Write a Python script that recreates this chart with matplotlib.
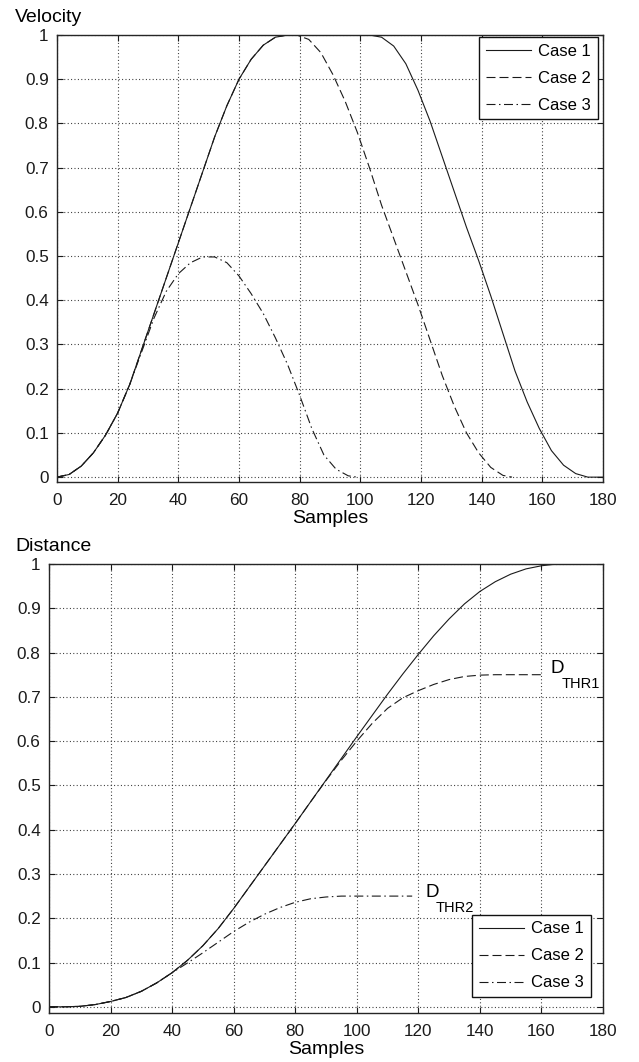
import numpy as np
import matplotlib
matplotlib.use("Agg")
import matplotlib.pyplot as plt
from matplotlib.ticker import FuncFormatter, MultipleLocator

# Figure geometry (pixels, dpi=100)
W, H = 639, 1062
DPI = 100
PX = 72.0 / DPI  # points per pixel

# Velocity profiles
VEL_X1 = [0, 4, 8, 12, 16, 20, 24, 28, 32, 36, 40, 44, 48, 52, 56, 60, 64, 68, 72, 76,
          103, 107, 111, 115, 119, 123, 127, 131, 135, 139, 143, 147, 151, 155, 159, 163,
          167, 171, 175, 180]
VEL_1 = [0, 0.006, 0.025, 0.055, 0.095, 0.145, 0.21, 0.29, 0.37, 0.45, 0.53, 0.61, 0.69, 0.77,
         0.84, 0.90, 0.945, 0.977, 0.995, 1.0,
         1.0, 0.995, 0.975, 0.935, 0.875, 0.805, 0.725, 0.645, 0.565, 0.49, 0.41, 0.325,
         0.24, 0.17, 0.11, 0.06, 0.027, 0.008, 0.0, 0.0]

VEL_X2 = [0, 4, 8, 12, 16, 20, 24, 28, 32, 36, 40, 44, 48, 52, 56, 60, 64, 68, 72, 76,
          79, 83, 87, 91, 95, 99, 103, 107, 111, 115, 119, 123, 127, 131, 135, 139, 143, 147, 150]
VEL_2 = [0, 0.006, 0.025, 0.055, 0.095, 0.145, 0.21, 0.29, 0.37, 0.45, 0.53, 0.61, 0.69, 0.77,
         0.84, 0.90, 0.945, 0.977, 0.995, 1.0,
         1.0, 0.99, 0.96, 0.91, 0.85, 0.78, 0.70, 0.615, 0.54, 0.465, 0.39, 0.31, 0.23, 0.16,
         0.10, 0.055, 0.022, 0.004, 0.0]

VEL_X3 = [0, 4, 8, 12, 16, 20, 24, 28, 32, 36, 40, 44, 48, 52, 56, 60, 64, 68, 72, 76,
          80, 84, 88, 92, 96, 99]
VEL_3 = [0, 0.006, 0.025, 0.055, 0.095, 0.145, 0.21, 0.285, 0.36, 0.42, 0.46, 0.485, 0.498,
         0.498, 0.485, 0.455, 0.415, 0.37, 0.315, 0.255, 0.185, 0.11, 0.05, 0.018, 0.003, 0.0]

# Distance profiles
DIST_X1 = [0, 5, 10, 15, 20, 25, 30, 35, 40, 45, 50, 55, 60, 65, 70, 75, 80, 85, 90, 95, 100,
           105, 110, 115, 120, 125, 130, 135, 140, 145, 150, 155, 160, 165, 170, 175, 180]
DIST_1 = [0, 0, 0.001, 0.005, 0.012, 0.021, 0.035, 0.054, 0.077, 0.105, 0.138, 0.177, 0.222, 0.27,
          0.318, 0.366, 0.414, 0.463, 0.512, 0.561, 0.61, 0.658, 0.706, 0.752, 0.796, 0.838, 0.876,
          0.91, 0.938, 0.96, 0.977, 0.989, 0.996, 1.0, 1.0, 1.0, 1.0]

DIST_X2 = [0, 5, 10, 15, 20, 25, 30, 35, 40, 45, 50, 55, 60, 65, 70, 75, 80, 85, 90, 95, 100,
           105, 110, 115, 120, 125, 130, 135, 140, 145, 150, 155, 160]
DIST_2 = [0, 0, 0.001, 0.005, 0.012, 0.021, 0.035, 0.054, 0.077, 0.105, 0.138, 0.177, 0.222, 0.27,
          0.318, 0.366, 0.414, 0.463, 0.511, 0.557, 0.60, 0.64, 0.674, 0.698, 0.714, 0.728, 0.739,
          0.746, 0.749, 0.75, 0.75, 0.75, 0.75]

DIST_X3 = [0, 5, 10, 15, 20, 25, 30, 35, 40, 45, 50, 55, 60, 65, 70, 75, 80, 85, 90, 95, 100,
           105, 110, 115, 118]
DIST_3 = [0, 0, 0.001, 0.005, 0.012, 0.021, 0.035, 0.054, 0.077, 0.099, 0.122, 0.146, 0.17, 0.191,
          0.209, 0.224, 0.236, 0.244, 0.248, 0.25, 0.25, 0.25, 0.25, 0.25, 0.25]

LABELS = ["Case 1", "Case 2", "Case 3"]

# Line styles (dash patterns in pixels)
LINE_COLOR = "#1a1a1a"
DASHES = [None, (9, 4), (9, 3.5, 1.5, 3.5)]

plt.rcParams["font.family"] = ["Liberation Sans", "DejaVu Sans"]
plt.rcParams["lines.scale_dashes"] = False


def style_axes(ax, ylow):
    ax.set_xlim(0, 180)
    ax.set_ylim(ylow, 1)
    ax.xaxis.set_major_locator(MultipleLocator(20))
    ax.yaxis.set_major_locator(MultipleLocator(0.1))
    ax.yaxis.set_major_formatter(FuncFormatter(lambda v, p: f"{v:g}" if v >= -1e-9 else ""))
    ax.tick_params(direction="in", length=4, width=0.8, top=True, right=True,
                   labelsize=12.3, pad=6, colors="#1a1a1a")
    ax.tick_params(axis="x", pad=8)
    for s in ax.spines.values():
        s.set_linewidth(1.0)
        s.set_color("#262626")
    ax.grid(True, color="#333333", linewidth=0.8, linestyle=(0, (1 * PX, 2.4 * PX)))
    ax.set_axisbelow(True)
    ax.set_xlabel("Samples", fontsize=14, labelpad=1)


def plot_cases(ax, xs, ys):
    handles = []
    for x, y, d, lab in zip(xs, ys, DASHES, LABELS):
        ln, = ax.plot(x, y, color=LINE_COLOR, linewidth=0.8, label=lab)
        if d is not None:
            ln.set_dashes([v * PX for v in d])
        handles.append(ln)
    return handles


def add_legend(fig, ax, loc, anchor_px):
    leg = ax.legend(loc=loc, bbox_to_anchor=(anchor_px[0] / W, 1 - anchor_px[1] / H),
                    bbox_transform=fig.transFigure, borderaxespad=0, fontsize=12,
                    fancybox=False, framealpha=1, edgecolor="#111111",
                    handlelength=2.7, handletextpad=0.45, labelspacing=0.72, borderpad=0.4)
    leg.get_frame().set_linewidth(1.0)
    return leg


def main():
    fig = plt.figure(figsize=(W / DPI, H / DPI), dpi=DPI)

    # Velocity
    ax1 = fig.add_axes([57 / W, 1 - 482 / H, 546 / W, 447 / H])
    plot_cases(ax1, [VEL_X1, VEL_X2, VEL_X3], [VEL_1, VEL_2, VEL_3])
    style_axes(ax1, -0.011)
    add_legend(fig, ax1, "upper right", (598, 37))
    fig.text(15 / W, 1 - 22 / H, "Velocity", fontsize=14, ha="left", va="baseline")

    # Distance
    ax2 = fig.add_axes([49 / W, 1 - 1013 / H, 554 / W, 449 / H])
    plot_cases(ax2, [DIST_X1, DIST_X2, DIST_X3], [DIST_1, DIST_2, DIST_3])
    style_axes(ax2, -0.014)
    add_legend(fig, ax2, "lower right", (591, 997))
    fig.text(15 / W, 1 - 551 / H, "Distance", fontsize=14, ha="left", va="baseline")

    # Threshold annotations
    ax2.text(162.8, 0.754, "D", fontsize=13.5, ha="left", va="baseline")
    ax2.text(166.6, 0.72, "THR1", fontsize=10.5, ha="left", va="baseline")
    ax2.text(122.2, 0.249, "D", fontsize=13.5, ha="left", va="baseline")
    ax2.text(125.7, 0.215, "THR2", fontsize=10.5, ha="left", va="baseline")

    fig.savefig("out.png", dpi=DPI, facecolor="white")
    plt.close(fig)


if __name__ == "__main__":
    main()
